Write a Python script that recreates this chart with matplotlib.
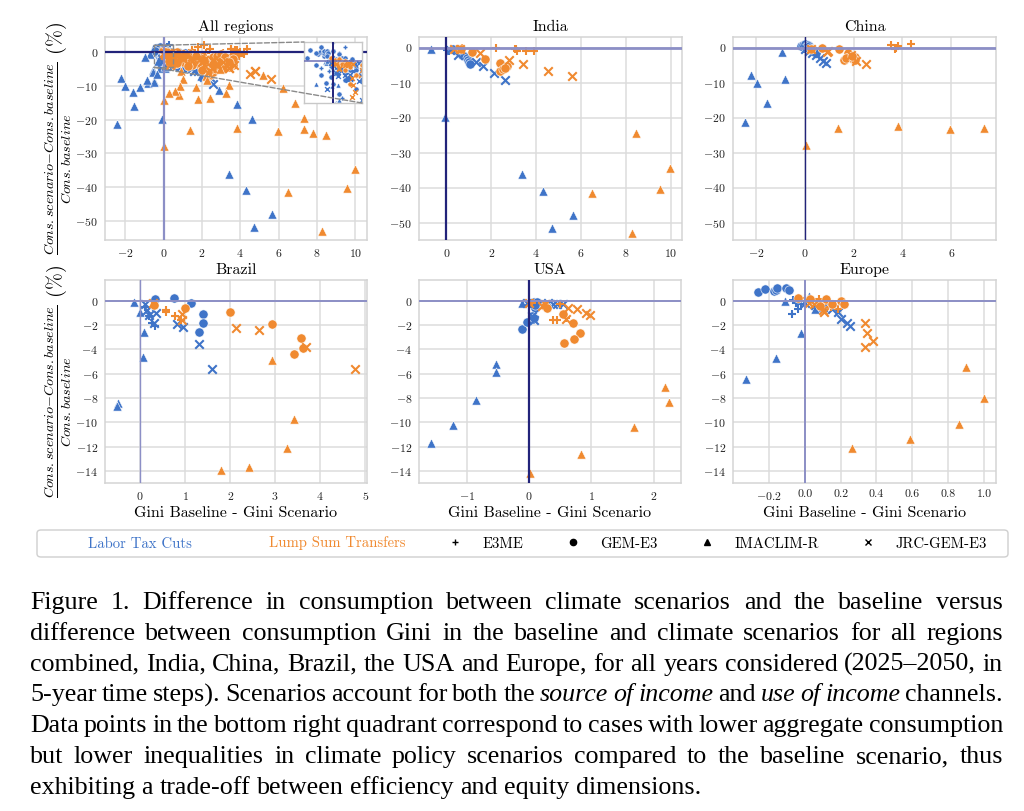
import matplotlib
matplotlib.use('Agg')
import matplotlib.pyplot as plt
from matplotlib.lines import Line2D
from matplotlib.patches import Rectangle, ConnectionPatch, FancyBboxPatch

plt.rcParams.update({
    'font.family': 'serif',
    'font.serif': ['cmr10'],
    'mathtext.fontset': 'cm',
    'axes.formatter.use_mathtext': True,
    'axes.unicode_minus': True,
})

BLUE = '#3f74c8'
ORANGE = '#f08a30'
NAVY_DARK = '#22237a'
NAVY_LIGHT = '#8c8fc6'

# model codes: E = E3ME, G = GEM-E3, I = IMACLIM-R, J = JRC-GEM-E3
MODELS = ['E3ME', 'GEM-E3', 'IMACLIM-R', 'JRC-GEM-E3']
MODEL_CODES = ['E', 'G', 'I', 'J']
POLICIES = ['Labor Tax Cuts', 'Lump Sum Transfers']

# ---------------- India ----------------
IND_LABOR = [
    (-0.70, -0.4, 'I'), (-0.07, -19.75, 'I'), (3.39, -36.0, 'I'), (4.29, -41.0, 'I'), (4.72, -51.7, 'I'), (5.63, -47.9, 'I'),
    (0.3, -0.5, 'G'), (0.4, -0.8, 'G'), (0.5, -1.0, 'G'), (0.6, -1.5, 'G'), (0.7, -2.0, 'G'), (0.8, -2.5, 'G'),
    (0.9, -3.0, 'G'), (0.95, -3.5, 'G'), (1.0, -4.0, 'G'), (1.05, -4.6, 'G'),
    (0.15, -0.7, 'J'), (0.52, -2.1, 'J'), (1.31, -4.0, 'J'), (1.64, -5.4, 'J'), (2.13, -7.3, 'J'), (2.60, -9.3, 'J'),
    (0.05, -0.7, 'E'), (0.1, -1.0, 'E'), (0.3, -0.6, 'E'),
]
IND_LUMP = [
    (8.44, -24.5, 'I'), (6.50, -41.5, 'I'), (8.26, -53.0, 'I'), (9.54, -40.3, 'I'), (9.96, -34.5, 'I'),
    (0.55, -0.3, 'G'), (0.67, -0.5, 'G'), (1.12, -1.4, 'G'), (1.74, -3.3, 'G'), (2.38, -4.3, 'G'), (2.41, -6.7, 'G'),
    (2.53, -6.2, 'G'), (2.68, -5.4, 'G'), (2.6, -5.8, 'G'),
    (0.35, -0.3, 'J'), (0.6, -0.4, 'J'), (1.49, -1.6, 'J'), (2.80, -3.5, 'J'), (3.42, -4.8, 'J'), (4.51, -6.6, 'J'), (5.61, -8.1, 'J'),
    (0.7, -0.2, 'E'), (2.20, -0.2, 'E'), (3.05, -0.5, 'E'), (3.13, -1.0, 'E'), (3.54, -0.9, 'E'), (3.91, -1.0, 'E'), (3.1, -0.3, 'E'),
]

# ---------------- China ----------------
CHN_LABOR = [
    (-2.45, -21.4, 'I'), (-2.23, -7.8, 'I'), (-1.99, -10.0, 'I'), (-1.56, -15.9, 'I'), (-0.96, -1.3, 'I'), (-0.81, -9.0, 'I'),
    (-0.15, 0.5, 'G'), (-0.1, 0.8, 'G'), (0.0, 1.0, 'G'), (0.05, 0.2, 'G'), (0.1, 0.7, 'G'), (0.15, 0.3, 'G'),
    (0.2, 0.0, 'G'), (0.3, -0.5, 'G'), (0.4, -1.0, 'G'), (0.45, -1.5, 'G'),
    (0.0, -0.5, 'J'), (0.15, -1.0, 'J'), (0.3, -1.5, 'J'), (0.45, -2.2, 'J'), (0.6, -3.0, 'J'), (0.75, -3.8, 'J'), (0.85, -4.5, 'J'),
    (-0.05, -0.3, 'E'), (0.1, -0.2, 'E'),
]
CHN_LUMP = [
    (0.03, -27.9, 'I'), (1.36, -23.1, 'I'), (3.82, -22.4, 'I'), (5.97, -23.3, 'I'), (7.34, -22.9, 'I'),
    (0.25, -0.3, 'G'), (0.71, 0.0, 'G'), (1.38, -0.4, 'G'), (1.77, -1.6, 'G'), (1.81, -2.6, 'G'), (1.60, -3.5, 'G'),
    (1.70, -3.1, 'G'), (1.97, -3.3, 'G'), (2.07, -2.6, 'G'), (2.04, -3.5, 'G'), (1.93, -2.4, 'G'),
    (0.26, -0.5, 'J'), (0.88, -1.4, 'J'), (0.95, -1.1, 'J'), (1.9, -2.0, 'J'), (2.11, -3.8, 'J'), (2.52, -4.7, 'J'),
    (3.52, 0.8, 'E'), (3.70, -0.4, 'E'), (3.75, 0.0, 'E'), (3.82, 0.5, 'E'), (4.37, 1.0, 'E'),
]

# ---------------- Brazil ----------------
BRA_LABOR = [
    (-0.13, -0.08, 'I'), (0.0, -0.9, 'I'), (0.09, -2.6, 'I'), (0.06, -4.6, 'I'), (-0.50, -8.4, 'I'), (-0.52, -8.7, 'I'),
    (0.33, 0.14, 'G'), (0.76, 0.19, 'G'), (1.14, -0.22, 'G'), (1.39, -1.12, 'G'), (1.39, -1.86, 'G'), (1.31, -2.55, 'G'),
    (0.10, -0.3, 'J'), (0.15, -0.77, 'J'), (0.2, -1.18, 'J'), (0.35, -1.04, 'J'), (0.30, -1.86, 'J'), (0.81, -1.95, 'J'),
    (0.96, -2.14, 'J'), (1.30, -3.59, 'J'), (1.60, -5.6, 'J'),
    (0.1, -0.5, 'E'), (0.20, -1.3, 'E'), (0.26, -1.86, 'E'), (0.32, -2.08, 'E'),
]
BRA_LUMP = [
    (2.94, -4.88, 'I'), (3.42, -9.75, 'I'), (3.27, -12.08, 'I'), (2.41, -13.7, 'I'), (1.80, -13.9, 'I'),
    (0.31, -0.36, 'G'), (1.0, -0.58, 'G'), (1.99, -0.96, 'G'), (2.93, -1.92, 'G'), (3.58, -3.10, 'G'), (3.61, -3.86, 'G'), (3.42, -4.41, 'G'),
    (0.28, -0.22, 'J'), (0.93, -1.12, 'J'), (0.94, -1.59, 'J'), (2.13, -2.22, 'J'), (2.65, -2.41, 'J'), (3.68, -3.78, 'J'), (4.78, -5.6, 'J'),
    (0.57, -0.77, 'E'), (0.57, -0.9, 'E'), (0.78, -1.23, 'E'), (0.90, -1.59, 'E'),
]

# ---------------- USA ----------------
USA_LABOR = [
    (-0.12, -0.22, 'I'), (-0.54, -5.2, 'I'), (-0.53, -5.9, 'I'), (-0.86, -8.2, 'I'), (-1.22, -10.2, 'I'), (-1.58, -11.7, 'I'),
    (-0.12, -2.33, 'G'), (-0.03, -1.78, 'G'), (0.08, -0.08, 'G'), (0.12, -0.08, 'G'), (0.09, -0.63, 'G'), (0.10, -0.36, 'G'),
    (0.05, -1.3, 'G'), (0.08, -1.45, 'G'),
    (-0.04, -0.22, 'J'), (0.31, -0.16, 'J'), (0.38, -0.3, 'J'), (0.45, -0.27, 'J'), (0.54, -0.27, 'J'), (0.05, -1.3, 'J'), (0.08, -1.6, 'J'),
    (0.03, -0.3, 'E'), (0.05, -1.4, 'E'), (0.08, -1.55, 'E'),
]
USA_LUMP = [
    (0.01, -14.2, 'I'), (0.83, -12.6, 'I'), (1.69, -10.4, 'I'), (2.19, -7.1, 'I'), (2.25, -8.3, 'I'),
    (0.25, -0.4, 'G'), (0.29, -0.63, 'G'), (0.55, -1.1, 'G'), (0.70, -1.86, 'G'), (0.82, -2.68, 'G'), (0.72, -3.15, 'G'), (0.56, -3.5, 'G'),
    (0.0, -0.22, 'J'), (0.21, -0.41, 'J'), (0.25, -0.3, 'J'), (0.63, -0.58, 'J'), (0.77, -0.71, 'J'), (0.91, -0.99, 'J'),
    (0.98, -1.18, 'J'), (0.6, -1.5, 'J'),
    (0.05, -0.2, 'E'), (0.39, -1.59, 'E'), (0.44, -1.59, 'E'), (0.5, -0.3, 'E'), (0.60, -1.45, 'E'),
]

# ---------------- Europe ----------------
EUR_LABOR = [
    (-0.26, 0.74, 'G'), (-0.22, 0.93, 'G'), (-0.17, 0.79, 'G'), (-0.16, 0.85, 'G'), (-0.155, 1.01, 'G'), (-0.106, 1.07, 'G'), (-0.09, 0.88, 'G'),
    (-0.108, -0.03, 'I'), (-0.02, -2.68, 'I'), (-0.162, -4.68, 'I'), (-0.33, -6.44, 'I'), (0.024, 0.41, 'I'), (0.06, -0.71, 'I'),
    (-0.07, -1.1, 'E'), (-0.04, -0.71, 'E'), (-0.065, 0.05, 'E'), (-0.05, -0.16, 'E'), (-0.02, -0.3, 'E'),
    (0.0, -0.16, 'J'), (0.056, -0.36, 'J'), (0.1, -0.5, 'J'), (0.15, -0.7, 'J'), (0.186, -0.96, 'J'), (0.205, -1.53, 'J'),
    (0.236, -1.86, 'J'), (0.25, -2.05, 'J'),
]
EUR_LUMP = [
    (-0.037, 0.25, 'G'), (0.03, 0.1, 'G'), (0.088, -0.41, 'G'), (0.121, 0.11, 'G'), (0.153, -0.3, 'G'), (0.20, 0.0, 'G'), (0.22, -0.3, 'G'),
    (0.024, -0.16, 'J'), (0.05, -0.3, 'J'), (0.1, -0.77, 'J'), (0.11, -0.9, 'J'), (0.335, -1.86, 'J'), (0.35, -2.63, 'J'),
    (0.38, -3.29, 'J'), (0.335, -3.84, 'J'),
    (0.0, 0.19, 'E'), (0.08, 0.11, 'E'), (0.1, -0.3, 'E'), (0.149, -0.49, 'E'), (0.186, -0.68, 'E'),
    (0.90, -5.48, 'I'), (1.0, -8.03, 'I'), (0.862, -10.14, 'I'), (0.587, -11.4, 'I'), (0.266, -12.08, 'I'),
]

# ---------------- other regions (only in the "All regions" panel) ----------------
OTH_LABOR = [
    (-0.4, 1.2, 'G'), (-0.3, 0.8, 'G'), (-0.2, 1.5, 'G'), (-0.1, 0.5, 'G'), (0.0, 1.0, 'G'), (0.1, -0.5, 'G'), (0.2, 0.3, 'G'),
    (0.3, -1.0, 'G'), (0.4, -1.5, 'G'), (0.5, -2.0, 'G'), (0.6, -0.8, 'G'), (0.7, -2.5, 'G'), (0.8, -1.8, 'G'), (0.9, -3.0, 'G'),
    (1.0, -2.2, 'G'), (1.1, -3.5, 'G'), (1.2, -2.8, 'G'), (1.3, -3.8, 'G'), (1.4, -3.2, 'G'), (1.5, -4.0, 'G'), (1.6, -3.5, 'G'),
    (1.8, -4.2, 'G'), (2.0, -4.8, 'G'), (2.2, -5.5, 'G'), (-0.3, -0.5, 'G'), (-0.2, -1.5, 'G'), (0.0, -2.5, 'G'), (0.1, -3.5, 'G'),
    (0.2, -2.0, 'G'), (0.4, -3.0, 'G'), (-0.45, 0.3, 'G'), (0.6, -3.8, 'G'), (0.8, -4.5, 'G'), (1.0, -5.0, 'G'),
    (0.3, -1.8, 'J'), (0.6, -2.8, 'J'), (0.9, -3.5, 'J'), (1.2, -4.2, 'J'), (1.5, -4.8, 'J'), (1.8, -5.5, 'J'), (2.1, -6.0, 'J'),
    (-0.1, -3.0, 'J'), (0.5, -4.2, 'J'), (1.0, -1.5, 'J'), (2.4, -7.5, 'J'),
    (0.0, 2.0, 'E'), (0.2, 1.5, 'E'), (0.1, 0.8, 'E'), (0.3, 2.2, 'E'), (-0.2, -0.8, 'E'), (0.5, -1.2, 'E'), (0.05, -4.5, 'E'), (0.15, -4.0, 'E'),
    (2.89, -11.2, 'I'), (1.95, -7.2, 'I'), (3.84, -15.4, 'I'), (4.63, -19.9, 'I'), (0.1, -4.2, 'I'), (-0.3, -2.5, 'I'),
]
OTH_LUMP = [
    (0.2, -1.0, 'G'), (0.4, -1.5, 'G'), (0.6, -2.0, 'G'), (0.8, -2.5, 'G'), (1.0, -3.0, 'G'), (1.2, -2.0, 'G'), (1.4, -1.5, 'G'),
    (1.6, -2.5, 'G'), (1.8, -3.5, 'G'), (2.0, -4.0, 'G'), (2.2, -3.0, 'G'), (2.4, -2.0, 'G'), (2.6, -1.5, 'G'), (2.8, -1.0, 'G'),
    (3.0, -0.5, 'G'), (3.2, -1.5, 'G'), (3.4, -2.5, 'G'), (3.5, -3.5, 'G'), (3.3, -4.2, 'G'), (3.0, -3.8, 'G'), (2.7, -4.5, 'G'),
    (2.5, -5.0, 'G'), (2.3, -5.8, 'G'), (1.5, -3.8, 'G'), (1.3, -4.0, 'G'), (0.9, -1.2, 'G'), (0.5, -0.5, 'G'), (1.1, -0.8, 'G'),
    (1.9, -1.8, 'G'), (2.1, -2.2, 'G'), (0.3, -2.5, 'G'), (0.7, -3.2, 'G'), (3.6, -2.0, 'G'), (3.4, -3.0, 'G'), (2.9, -2.8, 'G'),
    (1.7, -1.0, 'G'), (0.1, 0.2, 'G'), (2.6, -3.4, 'G'), (3.1, -5.0, 'G'), (2.0, -5.2, 'G'),
    (0.5, -1.0, 'J'), (1.0, -2.0, 'J'), (1.5, -2.5, 'J'), (2.0, -3.0, 'J'), (2.6, -2.5, 'J'), (2.8, -4.0, 'J'), (3.1, -3.0, 'J'),
    (3.4, -4.8, 'J'), (4.78, -5.5, 'J'), (2.3, -6.2, 'J'), (1.2, -0.5, 'J'),
    (3.5, 1.0, 'E'), (3.7, 0.5, 'E'), (4.0, 0.0, 'E'), (4.2, -0.5, 'E'), (3.9, -1.0, 'E'), (1.8, 1.5, 'E'), (2.1, 2.0, 'E'),
    (2.4, 1.0, 'E'), (1.5, 0.5, 'E'),
    (5.17, -6.8, 'I'), (6.23, -10.5, 'I'), (6.87, -15.0, 'I'), (7.30, -19.4, 'I'), (7.77, -23.9, 'I'),
]

TITLES = ['All regions', 'India', 'China', 'Brazil', 'USA', 'Europe']
XLIMS = [(-3.05, 10.6), (-1.22, 10.5), (-2.96, 7.84), (-0.78, 5.04), (-1.77, 2.44), (-0.40, 1.067)]
YLIMS = [(-55.7, 4.5), (-55.0, 3.0), (-55.0, 3.0), (-15.0, 1.7), (-15.0, 1.7), (-15.0, 1.7)]
XTICKS = [[-2, 0, 2, 4, 6, 8, 10], [0, 2, 4, 6, 8, 10], [-2, 0, 2, 4, 6], [0, 1, 2, 3, 4, 5],
          [-1, 0, 1, 2], [-0.2, 0.0, 0.2, 0.4, 0.6, 0.8, 1.0]]
YTICKS_TOP = [0, -10, -20, -30, -40, -50]
YTICKS_BOT = [0, -2, -4, -6, -8, -10, -12, -14]

MARKER = {'E': '+', 'G': 'o', 'I': '^', 'J': 'x'}

W, H = 1024, 811
fig = plt.figure(figsize=(W / 100, H / 100), dpi=100)


def px_axes(left, top, right, bottom):
    return fig.add_axes([left / W, 1 - bottom / H, (right - left) / W, (bottom - top) / H])


def scatter_group(ax, pts, color, s=44, lw=1.5):
    for code in MODEL_CODES:
        sel = [(x, y) for x, y, m in pts if m == code]
        if not sel:
            continue
        xs = [p[0] for p in sel]
        ys = [p[1] for p in sel]
        mk = MARKER[code]
        if mk in ('+', 'x'):
            ax.scatter(xs, ys, marker=mk, color=color, s=s * 0.85, linewidths=lw, zorder=2)
        else:
            ax.scatter(xs, ys, marker=mk, color=color, s=s, edgecolors='white', linewidths=0.4, zorder=2)


def style_axes(ax):
    ax.set_facecolor('white')
    ax.grid(True, color='#dcdcdc', linewidth=1.1, zorder=0)
    ax.set_axisbelow(True)
    for sp in ax.spines.values():
        sp.set_color('#d4d4d4')
        sp.set_linewidth(1.1)
    ax.tick_params(length=0, labelsize=8.5, pad=5, colors='#222222')


boxes = [(105, 37, 367, 240), (419, 37, 682, 240), (733, 37, 996, 240),
         (105, 280, 367, 483), (419, 280, 681, 483), (733, 280, 996, 483)]

REGION_LABOR = [None, IND_LABOR, CHN_LABOR, BRA_LABOR, USA_LABOR, EUR_LABOR]
REGION_LUMP = [None, IND_LUMP, CHN_LUMP, BRA_LUMP, USA_LUMP, EUR_LUMP]
ALL_LABOR = IND_LABOR + CHN_LABOR + BRA_LABOR + USA_LABOR + EUR_LABOR + OTH_LABOR
ALL_LUMP = IND_LUMP + CHN_LUMP + BRA_LUMP + USA_LUMP + EUR_LUMP + OTH_LUMP
REGION_LABOR[0] = ALL_LABOR
REGION_LUMP[0] = ALL_LUMP

# (hline colour, hline width, vline colour, vline width)
ZERO_LINES = [(NAVY_DARK, 1.6, NAVY_LIGHT, 1.6), (NAVY_LIGHT, 2.0, NAVY_DARK, 1.6), (NAVY_LIGHT, 2.0, NAVY_DARK, 1.0),
              (NAVY_LIGHT, 1.4, NAVY_LIGHT, 1.0), (NAVY_LIGHT, 1.4, NAVY_DARK, 1.6), (NAVY_LIGHT, 1.4, NAVY_LIGHT, 1.4)]

YLABEL = r'$\frac{Cons.scenario{-}Cons.baseline}{Cons.baseline}$ (%)'
axes = []
for i, b in enumerate(boxes):
    ax = px_axes(*b)
    style_axes(ax)
    scatter_group(ax, REGION_LABOR[i], BLUE)
    scatter_group(ax, REGION_LUMP[i], ORANGE)
    hc, hw, vc, vw = ZERO_LINES[i]
    ax.axhline(0, color=hc, lw=hw, zorder=3)
    ax.axvline(0, color=vc, lw=vw, zorder=3)
    ax.set_xlim(*XLIMS[i])
    ax.set_ylim(*YLIMS[i])
    ax.set_xticks(XTICKS[i])
    if i == 5:
        ax.set_xticklabels(['%.1f' % t if t >= 0 else r'$-$%.1f' % -t for t in XTICKS[i]])
    ax.set_yticks(YTICKS_TOP if i < 3 else YTICKS_BOT)
    ax.set_title(TITLES[i], fontsize=11.5, pad=4)
    if i in (0, 3):
        ax.set_ylabel(YLABEL, fontsize=14.5, labelpad=1)
    if i >= 3:
        ax.set_xlabel('Gini Baseline - Gini Scenario', fontsize=11.5, labelpad=3)
    axes.append(ax)

# inset on "All regions"
main = axes[0]
IX0, IX1, IY0, IY1 = -0.5, 0.5, -4.5, 2.0
ins = px_axes(304, 42, 362, 103)
ins.set_facecolor('white')
for sp in ins.spines.values():
    sp.set_color('#c8c8c8')
    sp.set_linewidth(1.0)
scatter_group(ins, ALL_LABOR, BLUE, s=14, lw=1.0)
scatter_group(ins, ALL_LUMP, ORANGE, s=14, lw=1.0)
ins.axhline(0, color='#6d70b5', lw=1.1, zorder=3)
ins.axvline(0, color=NAVY_DARK, lw=1.4, zorder=3)
ins.set_xlim(IX0, IX1)
ins.set_ylim(IY0, IY1)
ins.set_xticks([])
ins.set_yticks([])
main.add_patch(Rectangle((IX0, IY0), IX1 - IX0, IY1 - IY0, fill=False, ls='--', ec='#8a8a8a', lw=1.0, zorder=4))
for (xa, ya), (xb, yb) in [((IX0, IY1), (0, 1)), ((IX0, IY0), (1, 0))]:
    cp = ConnectionPatch(xyA=(xa, ya), coordsA=main.transData, xyB=(xb, yb), coordsB=ins.transAxes,
                         ls='--', color='#8a8a8a', lw=1.0, zorder=4)
    fig.add_artist(cp)

# legend (frame drawn separately so the box spans the figure width)
frame = FancyBboxPatch((37 / W, 1 - 557 / H), 971 / W, 27 / H, boxstyle='round,pad=0,rounding_size=0.004',
                       transform=fig.transFigure, facecolor='white', edgecolor='#cfcfcf', lw=1.0)
fig.add_artist(frame)
handles = [Line2D([], [], ls='none'), Line2D([], [], ls='none')]
for code in MODEL_CODES:
    handles.append(Line2D([], [], ls='none', marker=MARKER[code], color='black',
                          markersize=4.5 if MARKER[code] in 'ox^' else 5, markeredgewidth=1.0))
labels = POLICIES + MODELS
leg = fig.legend(handles, labels, loc='center left', bbox_to_anchor=(50 / W, 1 - 543.5 / H), ncol=6,
                 fontsize=10.6, frameon=False, handlelength=1.5, handletextpad=1.1, columnspacing=2.62,
                 borderpad=0, borderaxespad=0)
leg.get_texts()[0].set_color(BLUE)
leg.get_texts()[1].set_color(ORANGE)

# caption (justified)
CAPTION_LINES = [
    'Figure 1. Difference in consumption between climate scenarios and the baseline versus',
    'difference between consumption Gini in the baseline and climate scenarios for all regions',
    'combined, India, China, Brazil, the USA and Europe, for all years considered (2025\u20132050, in',
    '5-year time steps). Scenarios account for both the *source* *of* *income* and *use* *of* *income* channels.',
    'Data points in the bottom right quadrant correspond to cases with lower aggregate consumption',
    'but lower inequalities in climate policy scenarios compared to the baseline scenario, thus',
    'exhibiting a trade-off between efficiency and equity dimensions.',
]
CAP_FS = 18.7
CAP_FONT = 'Liberation Serif'
CAP_LEFT, CAP_RIGHT = 30, 1003
CAP_BASE0, CAP_STEP = 609, 30.8
fig.canvas.draw()
renderer = fig.canvas.get_renderer()
probe = fig.text(0, 0, 'n n', fontsize=CAP_FS, family=CAP_FONT)
probe2 = fig.text(0, 0, 'nn', fontsize=CAP_FS, family=CAP_FONT)
SPACE = probe.get_window_extent(renderer).width - probe2.get_window_extent(renderer).width
probe.remove()
probe2.remove()
for li, line in enumerate(CAPTION_LINES):
    items = []
    for w in line.split(' '):
        st = 'normal'
        if w.startswith('*') and w.endswith('*'):
            w = w[1:-1]
            st = 'italic'
        t = fig.text(0, 0, w, fontsize=CAP_FS, family=CAP_FONT, style=st, va='baseline', ha='left')
        items.append((t, t.get_window_extent(renderer).width))
    total = sum(wd for _, wd in items)
    if li == len(CAPTION_LINES) - 1:
        gap = SPACE
    else:
        gap = (CAP_RIGHT - CAP_LEFT - total) / (len(items) - 1)
    x = CAP_LEFT
    y = CAP_BASE0 + li * CAP_STEP
    for t, wd in items:
        t.set_position((x / W, 1 - y / H))
        x += wd + gap

fig.savefig('out.png', dpi=100, facecolor='white')
